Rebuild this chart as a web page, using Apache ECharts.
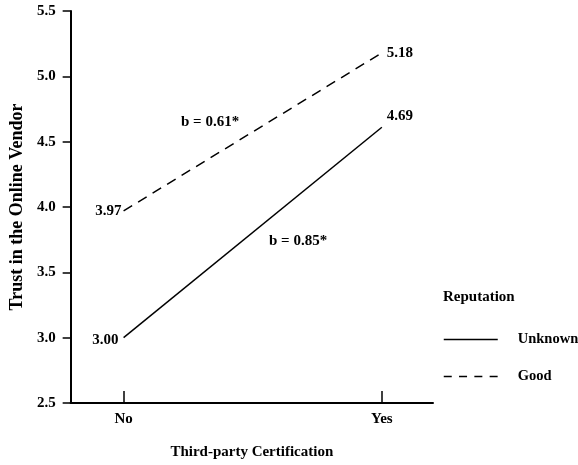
<!DOCTYPE html>
<html><head><meta charset="utf-8">
<script src="https://cdn.jsdelivr.net/npm/echarts@6/dist/echarts.min.js"></script>
<style>html,body{margin:0;padding:0;background:#fff}#c{width:578px;height:465px}</style>
</head><body><div id="c"></div>
<script>
const categories = ['No', 'Yes'];
const unknownValues = [3.00, 4.61];
const goodValues = [3.97, 5.18];
const unknownLabels = ['3.00', '4.69'];
const goodLabels = ['3.97', '5.18'];
const yTicks = [2.5, 3.0, 3.5, 4.0, 4.5, 5.0, 5.5];
const seriesNames = ['Unknown', 'Good'];
const slopeTexts = ['b = 0.85*', 'b = 0.61*'];

const F = '"Liberation Serif", "Times New Roman", serif';
const FS = 15;
const txt = {fontFamily: F, fontWeight: 'bold', fontSize: FS, color: '#000'};
const chart = echarts.init(document.getElementById('c'));

function labelSeries(vals, labels, placements) {
  return {
    type: 'scatter', symbolSize: 0, silent: true, z: 5,
    itemStyle: {opacity: 1, color: '#000'},
    data: vals.map((v, i) => ({
      value: [i, v],
      label: Object.assign({show: true, formatter: labels[i], opacity: 1}, txt, placements[i])
    }))
  };
}

chart.setOption({
  animation: false,
  grid: {left: 64, top: 11, right: 145, bottom: 60},
  title: {text: 'Reputation', left: 443, top: 290, padding: 0, textStyle: txt},
  legend: {
    orient: 'vertical', left: 443, top: 332, padding: 0, itemWidth: 54, itemHeight: 14, itemGap: 22,
    data: [
      {name: seriesNames[0], lineStyle: {type: 'solid', width: 1.5, color: '#000'}},
      {name: seriesNames[1], lineStyle: {type: [8, 7.3], width: 1.5, color: '#000'}}
    ],
    itemStyle: {opacity: 0},
    textStyle: Object.assign({}, txt, {fontSize: 14.5, padding: [0, 0, 0, 15]})
  },
  xAxis: {
    type: 'value', min: -0.205, max: 1.198,
    name: 'Third-party Certification', nameLocation: 'middle', nameGap: 42,
    nameTextStyle: txt,
    axisLine: {onZero: false, lineStyle: {color: '#000', width: 2}},
    axisTick: {inside: true, length: 12, customValues: [0, 1], lineStyle: {color: '#000', width: 1.5}},
    axisLabel: Object.assign({customValues: [0, 1], formatter: v => categories[Math.round(v)], margin: 9}, txt),
    splitLine: {show: false}
  },
  yAxis: {
    type: 'value', min: yTicks[0], max: yTicks[yTicks.length - 1], interval: 0.5,
    name: 'Trust in the Online Vendor', nameLocation: 'middle', nameGap: 41, nameRotate: 90,
    nameTextStyle: Object.assign({}, txt, {fontSize: 18}),
    axisLine: {show: true, onZero: false, lineStyle: {color: '#000', width: 2}},
    axisTick: {show: true, length: 8, lineStyle: {color: '#000', width: 1.5}},
    axisLabel: Object.assign({formatter: v => v.toFixed(1), margin: 15}, txt),
    splitLine: {show: false}
  },
  series: [
    {name: seriesNames[0], type: 'line', data: unknownValues.map((v, i) => [i, v]), symbol: 'none',
      lineStyle: {color: '#000', width: 1.5, type: 'solid'}, itemStyle: {color: '#000'}},
    {name: seriesNames[1], type: 'line', data: goodValues.map((v, i) => [i, v]), symbol: 'none',
      lineStyle: {color: '#000', width: 1.5, type: [10, 7]}, itemStyle: {color: '#000'}},
    labelSeries(unknownValues, unknownLabels, [
      {position: 'left', distance: 5, offset: [0, 2]},
      {position: 'right', distance: 5, offset: [0, -11]}
    ]),
    labelSeries(goodValues, goodLabels, [
      {position: 'left', distance: 2, offset: [0, 0]},
      {position: 'right', distance: 5, offset: [0, 0]}
    ])
  ],
  graphic: [
    {type: 'text', left: 181, top: 115, style: {text: slopeTexts[1], font: 'bold 15px ' + F, fill: '#000'}},
    {type: 'text', left: 269, top: 234, style: {text: slopeTexts[0], font: 'bold 15px ' + F, fill: '#000'}}
  ]
});
</script></body></html>
